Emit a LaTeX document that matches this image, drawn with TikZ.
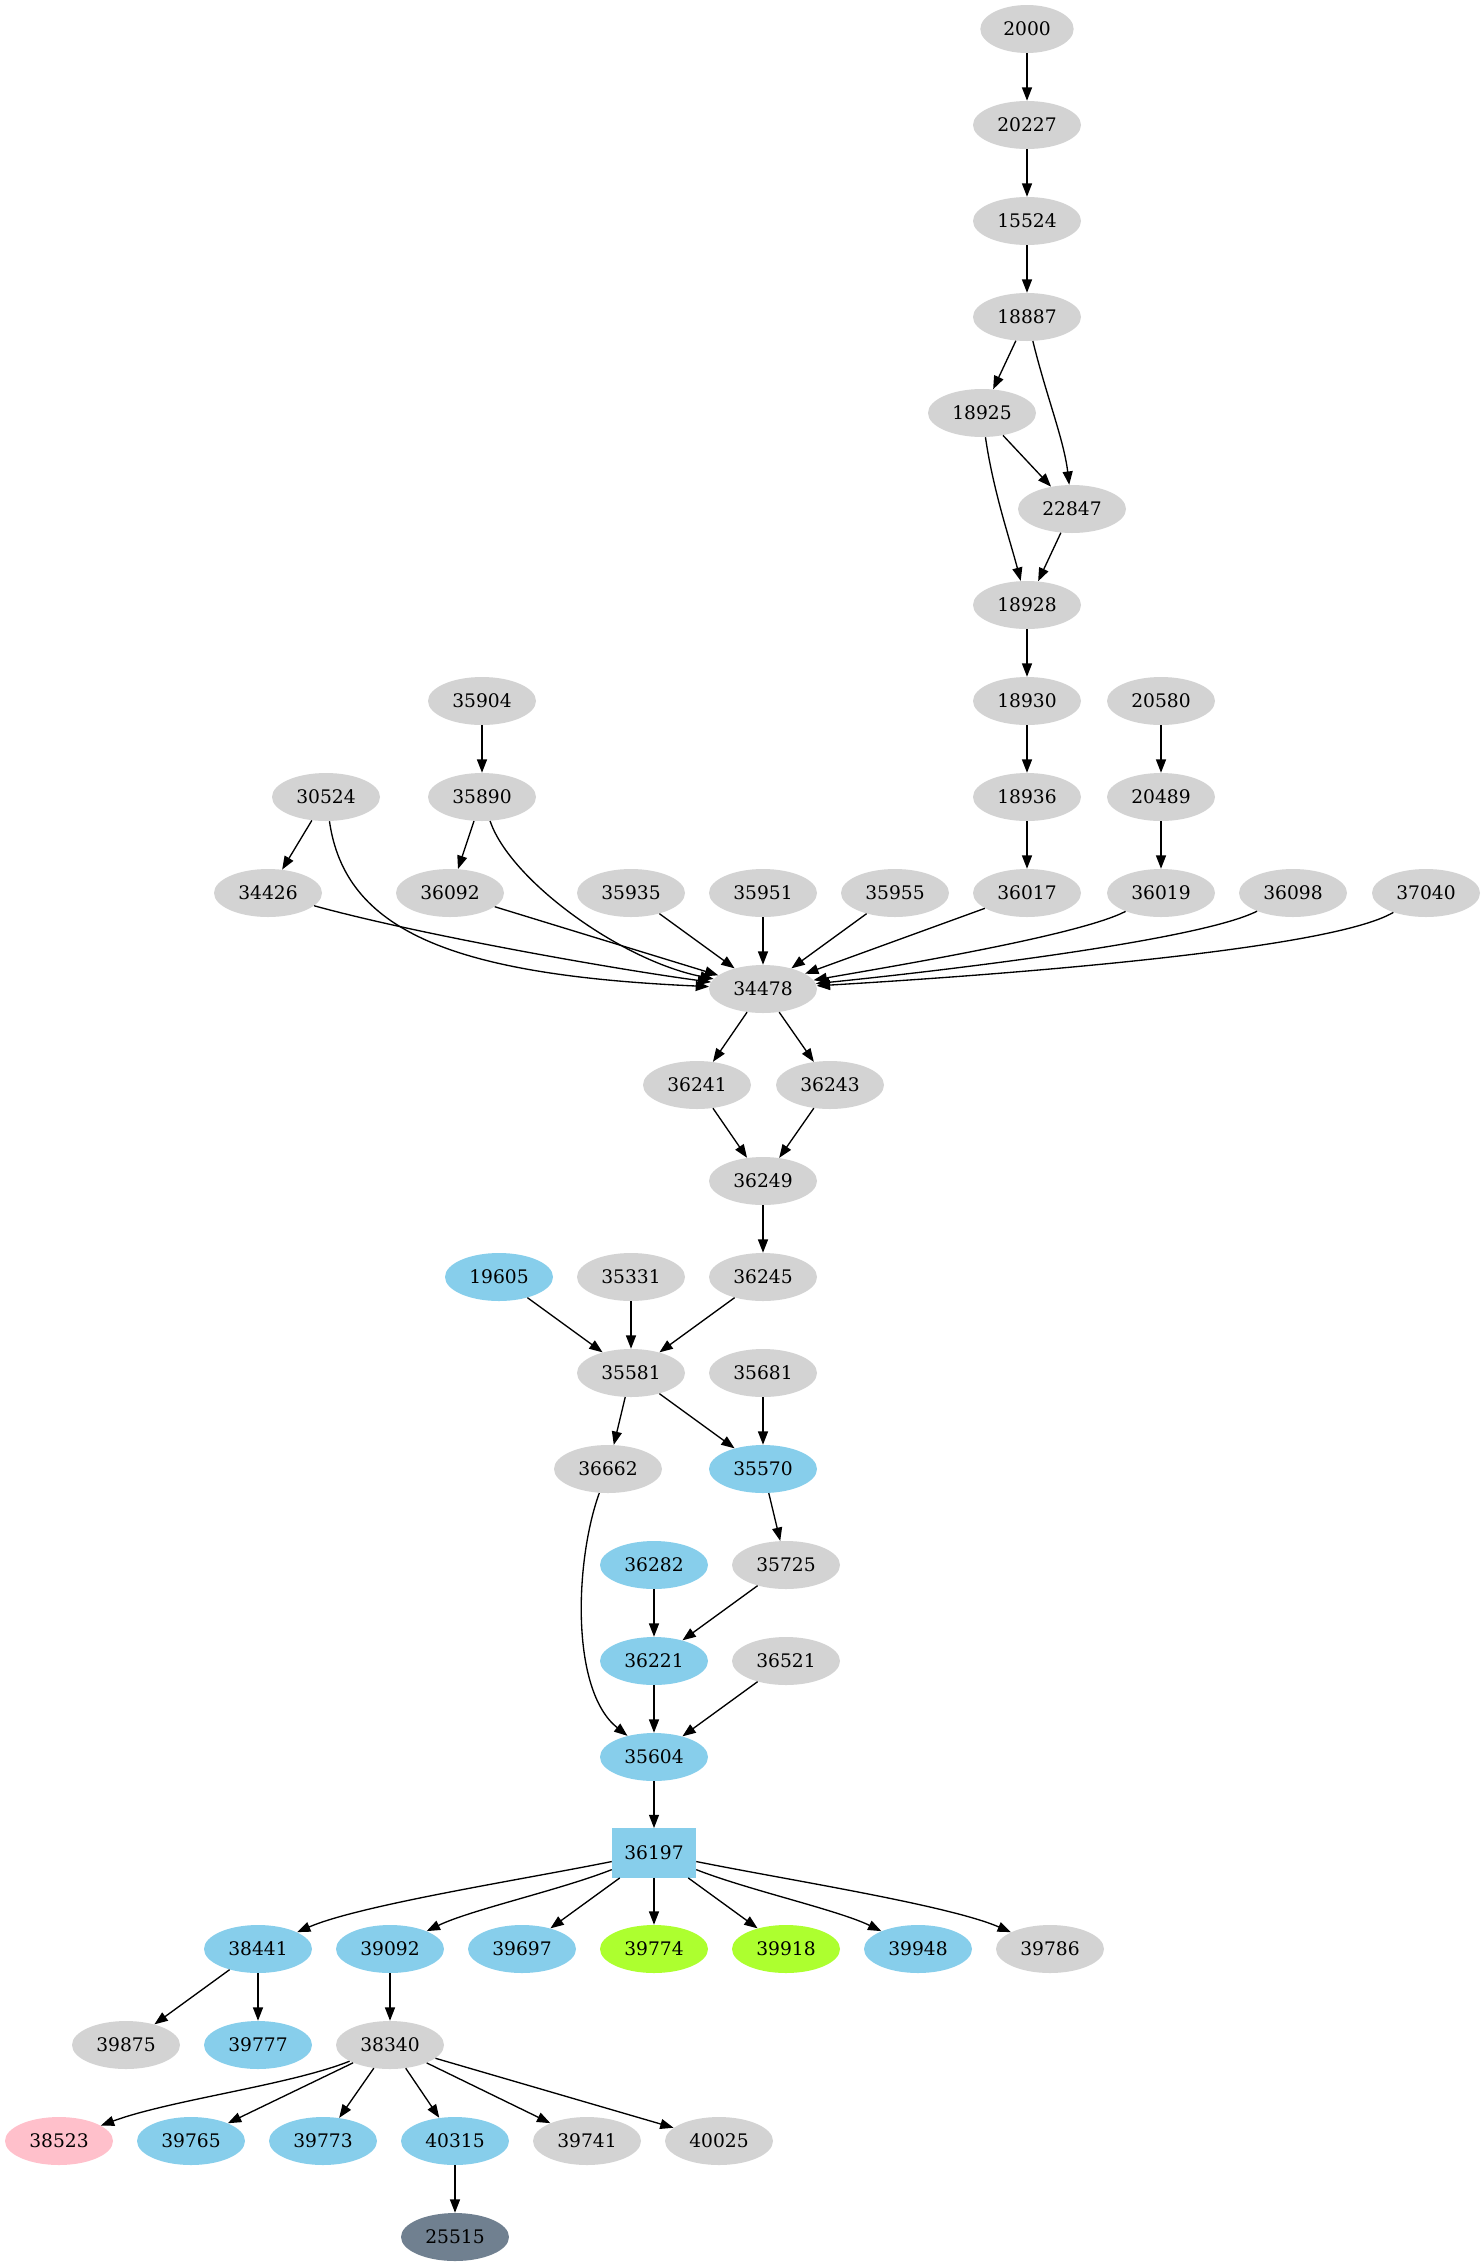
\documentclass[tikz,border=0pt]{standalone}
\usepackage{fontspec}
\newfontfamily\gvfont{DejaVu Serif}
\usetikzlibrary{shapes.geometric,arrows.meta}
\definecolor{lgray}{HTML}{D3D3D3}
\definecolor{sky}{HTML}{87CEEB}
\definecolor{gyel}{HTML}{ADFF2F}
\definecolor{pinkc}{HTML}{FFC0CB}
\definecolor{slate}{HTML}{708090}
\tikzset{
  gv/.style={ellipse, fill=lgray, draw=none, minimum width=81pt, minimum height=36pt, inner sep=0pt, font=\gvfont\fontsize{14pt}{16pt}\selectfont},
  sk/.style={gv, fill=sky},
  gy/.style={gv, fill=gyel},
  pk/.style={gv, fill=pinkc},
  sl/.style={gv, fill=slate},
  bx/.style={rectangle, fill=sky, draw=none, minimum width=63pt, minimum height=37pt, inner sep=0pt, font=\gvfont\fontsize{14pt}{16pt}\selectfont},
  ed/.style={-{Triangle[length=10pt,width=7.5pt]}, line width=1pt, black}
}
\begin{document}
\begin{tikzpicture}[x=0.75pt,y=-0.75pt]
\useasboundingbox (0,0) rectangle (1482,2267);
% rows
\node[gv, minimum width=70pt] (n2000) at (1027,29) {2000};
\node[gv] (n20227) at (1027,125) {20227};
\node[gv] (n15524) at (1027,221) {15524};
\node[gv] (n18887) at (1027,317) {18887};
\node[gv] (n18925) at (982,413) {18925};
\node[gv] (n22847) at (1072,509) {22847};
\node[gv] (n18928) at (1027,605) {18928};
\node[gv] (n35904) at (482,701) {35904};
\node[gv] (n18930) at (1027,701) {18930};
\node[gv] (n20580) at (1161,701) {20580};
\node[gv] (n30524) at (326,797) {30524};
\node[gv] (n35890) at (482,797) {35890};
\node[gv] (n18936) at (1027,797) {18936};
\node[gv] (n20489) at (1161,797) {20489};
\node[gv] (n34426) at (268,893) {34426};
\node[gv] (n36092) at (450,893) {36092};
\node[gv] (n35935) at (631,893) {35935};
\node[gv] (n35951) at (763,893) {35951};
\node[gv] (n35955) at (895,893) {35955};
\node[gv] (n36017) at (1027,893) {36017};
\node[gv] (n36019) at (1161,893) {36019};
\node[gv] (n36098) at (1293,893) {36098};
\node[gv] (n37040) at (1426,893) {37040};
\node[gv] (n34478) at (763,989) {34478};
\node[gv] (n36241) at (697,1085) {36241};
\node[gv] (n36243) at (830,1085) {36243};
\node[gv] (n36249) at (763,1181) {36249};
\node[sk] (n19605) at (499,1277) {19605};
\node[gv] (n35331) at (631,1277) {35331};
\node[gv] (n36245) at (763,1277) {36245};
\node[gv] (n35581) at (631,1373) {35581};
\node[gv] (n35681) at (763,1373) {35681};
\node[gv] (n36662) at (608,1469) {36662};
\node[sk] (n35570) at (763,1469) {35570};
\node[sk] (n36282) at (654,1565) {36282};
\node[gv] (n35725) at (786,1565) {35725};
\node[sk] (n36221) at (654,1661) {36221};
\node[gv] (n36521) at (786,1661) {36521};
\node[sk] (n35604) at (654,1757) {35604};
\node[bx] (n36197) at (654,1853) {36197};
\node[sk] (n38441) at (258,1949) {38441};
\node[sk] (n39092) at (390,1949) {39092};
\node[sk] (n39697) at (522,1949) {39697};
\node[gy] (n39774) at (654,1949) {39774};
\node[gy] (n39918) at (786,1949) {39918};
\node[sk] (n39948) at (918,1949) {39948};
\node[gv] (n39786) at (1050,1949) {39786};
\node[gv] (n39875) at (126,2045) {39875};
\node[sk] (n39777) at (258,2045) {39777};
\node[gv] (n38340) at (390,2045) {38340};
\node[pk] (n38523) at (59,2141) {38523};
\node[sk] (n39765) at (191,2141) {39765};
\node[sk] (n39773) at (323,2141) {39773};
\node[sk] (n40315) at (455,2141) {40315};
\node[gv] (n39741) at (587,2141) {39741};
\node[gv] (n40025) at (719,2141) {40025};
\node[sl] (n25515) at (455,2237) {25515};
% edges
\draw[ed] (n2000) -- (n20227);
\draw[ed] (n20227) -- (n15524);
\draw[ed] (n15524) -- (n18887);
\draw[ed] (n18887) -- (n18925);
\draw[ed] (n18887) .. controls (1046,395) and (1064,440) .. (n22847);
\draw[ed] (n18925) -- (n22847);
\draw[ed] (n18925) .. controls (993,490) and (1010,540) .. (n18928);
\draw[ed] (n22847) -- (n18928);
\draw[ed] (n18928) -- (n18930);
\draw[ed] (n18930) -- (n18936);
\draw[ed] (n18936) -- (n36017);
\draw[ed] (n20580) -- (n20489);
\draw[ed] (n20489) -- (n36019);
\draw[ed] (n35904) -- (n35890);
\draw[ed] (n30524) -- (n34426);
\draw[ed] (n35890) -- (n36092);
\draw[ed] (n30524) .. controls (345,930) and (450,975) .. (n34478);
\draw[ed] (n35890) .. controls (510,880) and (620,960) .. (n34478);
\draw[ed] (n34426) .. controls (420,935) and (620,970) .. (n34478);
\draw[ed] (n36092) -- (n34478);
\draw[ed] (n35935) -- (n34478);
\draw[ed] (n35951) -- (n34478);
\draw[ed] (n35955) -- (n34478);
\draw[ed] (n36017) -- (n34478);
\draw[ed] (n36019) .. controls (1080,935) and (900,965) .. (n34478);
\draw[ed] (n36098) .. controls (1200,940) and (950,970) .. (n34478);
\draw[ed] (n37040) .. controls (1330,950) and (1000,975) .. (n34478);
\draw[ed] (n34478) -- (n36241);
\draw[ed] (n34478) -- (n36243);
\draw[ed] (n36241) -- (n36249);
\draw[ed] (n36243) -- (n36249);
\draw[ed] (n36249) -- (n36245);
\draw[ed] (n19605) -- (n35581);
\draw[ed] (n35331) -- (n35581);
\draw[ed] (n36245) -- (n35581);
\draw[ed] (n35581) -- (n36662);
\draw[ed] (n35581) -- (n35570);
\draw[ed] (n35681) -- (n35570);
\draw[ed] (n35570) -- (n35725);
\draw[ed] (n36282) -- (n36221);
\draw[ed] (n35725) -- (n36221);
\draw[ed] (n36662) .. controls (575,1560) and (570,1690) .. (n35604);
\draw[ed] (n36221) -- (n35604);
\draw[ed] (n36521) -- (n35604);
\draw[ed] (n35604) -- (n36197);
\draw[ed] (n36197) .. controls (520,1880) and (360,1905) .. (n38441);
\draw[ed] (n36197) .. controls (560,1890) and (470,1910) .. (n39092);
\draw[ed] (n36197) -- (n39697);
\draw[ed] (n36197) -- (n39774);
\draw[ed] (n36197) -- (n39918);
\draw[ed] (n36197) .. controls (748,1890) and (838,1910) .. (n39948);
\draw[ed] (n36197) .. controls (788,1880) and (948,1905) .. (n39786);
\draw[ed] (n38441) -- (n39875);
\draw[ed] (n38441) -- (n39777);
\draw[ed] (n39092) -- (n38340);
\draw[ed] (n38340) .. controls (290,2085) and (170,2100) .. (n38523);
\draw[ed] (n38340) -- (n39765);
\draw[ed] (n38340) -- (n39773);
\draw[ed] (n38340) -- (n40315);
\draw[ed] (n38340) -- (n39741);
\draw[ed] (n38340) -- (n40025);
\draw[ed] (n40315) -- (n25515);
\end{tikzpicture}
\end{document}
